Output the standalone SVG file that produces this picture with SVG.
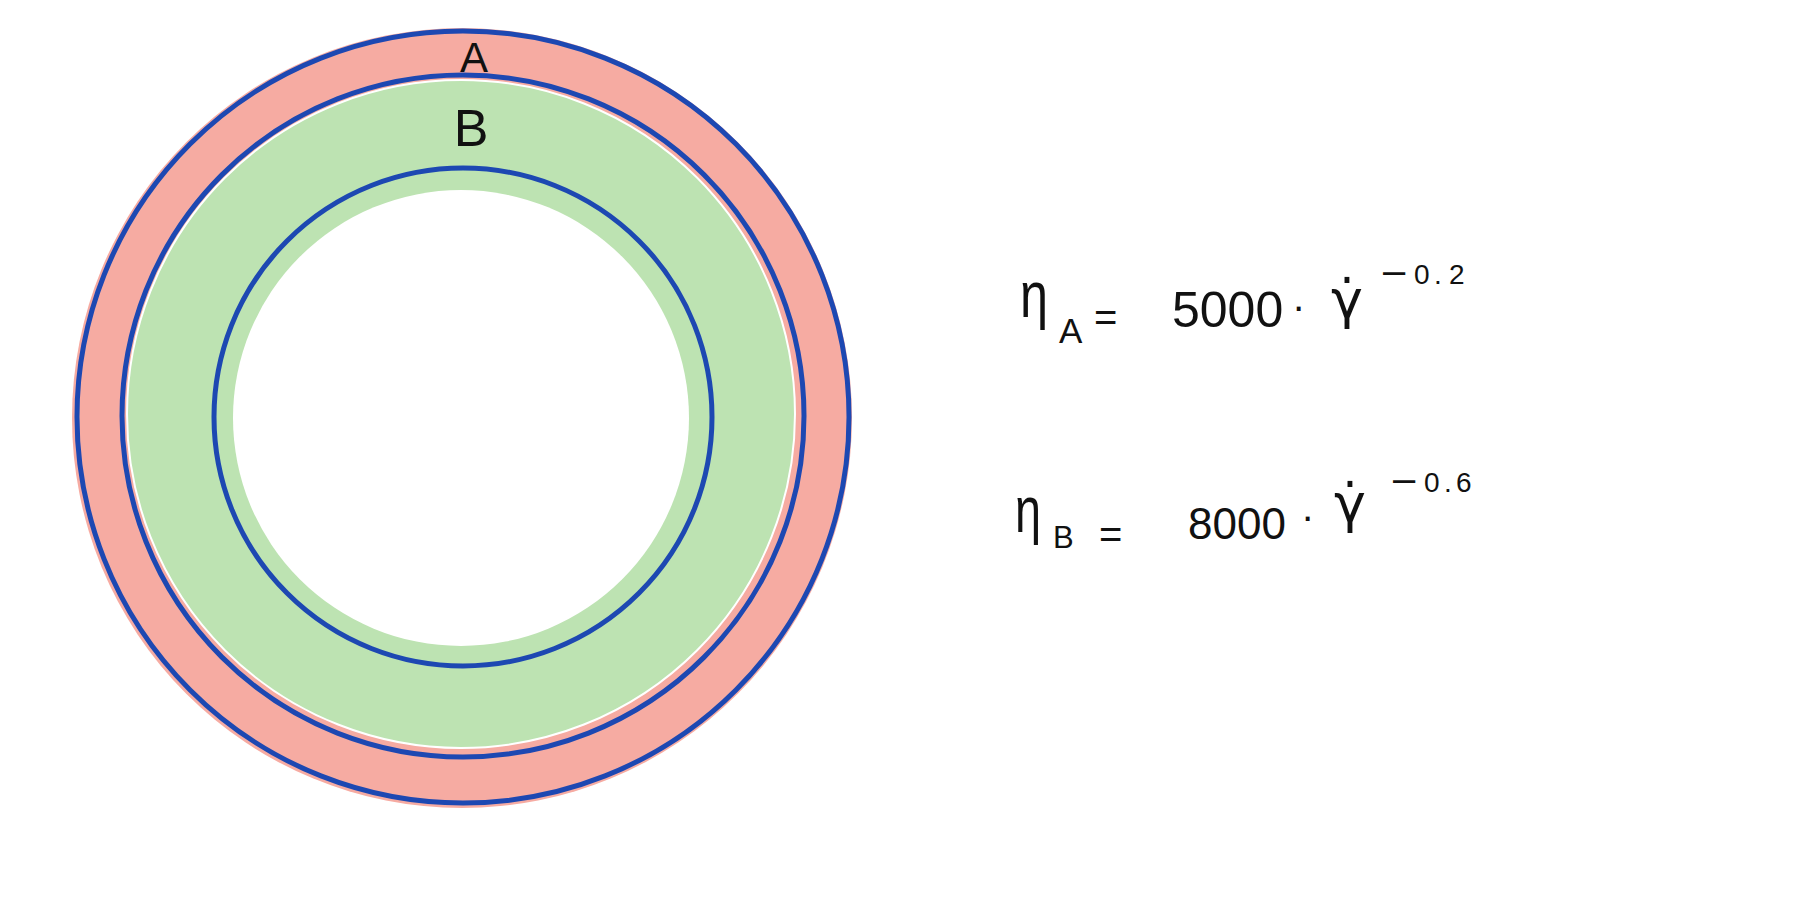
<svg xmlns="http://www.w3.org/2000/svg" width="1802" height="902" viewBox="0 0 1802 902">
<style>
.ring{fill:none;stroke:#1d48b2;stroke-width:5}
.hw{font-family:"Liberation Sans","DejaVu Sans",sans-serif;fill:#111}
.gd{font-family:"DejaVu Sans",sans-serif;fill:#111}
</style>
<rect width="1802" height="902" fill="#fff"/>
<g id="layer-A">
<circle cx="462" cy="418" r="390" fill="#f6aba2"/>
<circle class="ring" cx="463" cy="417" r="386"/>
</g>
<g id="layer-B">
<circle cx="461" cy="414" r="334" fill="#bde3b2" stroke="#fff" stroke-width="2"/>
<circle class="ring" cx="463" cy="416" r="341"/>
</g>
<g id="core">
<circle cx="461" cy="418" r="228" fill="#fff"/>
<circle class="ring" cx="463" cy="417" r="249"/>
</g>
<g id="labels">
<text class="hw" x="474" y="72" font-size="42" text-anchor="middle">A</text>
<text class="hw" x="471" y="146" font-size="52" text-anchor="middle">B</text>
</g>
<g id="eq-A">
<text class="hw" x="1020" y="317" font-size="64" textLength="28" lengthAdjust="spacingAndGlyphs">η</text>
<text class="hw" x="1059" y="343" font-size="35">A</text>
<text class="hw" x="1094" y="331" font-size="40">=</text>
<text class="hw" x="1172" y="327" font-size="50">5000</text>
<text class="hw" x="1292" y="320" font-size="40">·</text>
<text class="gd" x="1331" y="318" font-size="54">γ̇</text>
<text class="hw" y="284" font-size="28"><tspan x="1383" font-size="40">–</tspan><tspan x="1414">0</tspan><tspan x="1434">.</tspan><tspan x="1449">2</tspan></text>
</g>
<g id="eq-B">
<text class="hw" x="1015" y="532" font-size="64" textLength="26" lengthAdjust="spacingAndGlyphs">η</text>
<text class="hw" x="1053" y="548" font-size="31">B</text>
<text class="hw" x="1099" y="548" font-size="40">=</text>
<text class="hw" x="1188" y="539" font-size="44">8000</text>
<text class="hw" x="1301" y="530" font-size="40">·</text>
<text class="gd" x="1334" y="522" font-size="54">γ̇</text>
<text class="hw" y="492" font-size="28"><tspan x="1393" font-size="40">–</tspan><tspan x="1424">0</tspan><tspan x="1444">.</tspan><tspan x="1456">6</tspan></text>
</g>
</svg>
